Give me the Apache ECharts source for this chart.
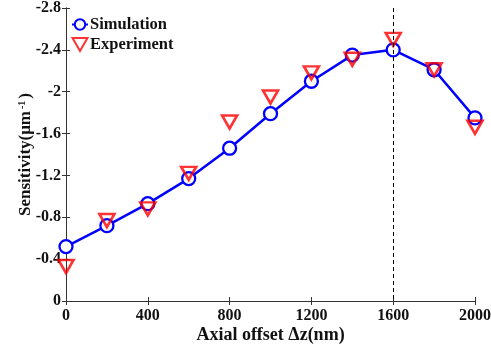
<!DOCTYPE html>
<html><head><meta charset="utf-8">
<script src="https://cdn.jsdelivr.net/npm/echarts@6/dist/echarts.min.js"></script>
<style>html,body{margin:0;padding:0;background:#fff}#c{width:491px;height:349px}</style>
</head><body><div id="c"></div>
<script>
const offsets = [0, 200, 400, 600, 800, 1000, 1200, 1400, 1600, 1800, 2000];
const simulation = [-0.52, -0.72, -0.93, -1.17, -1.46, -1.79, -2.10, -2.35, -2.40, -2.21, -1.75];
const experiment = [-0.33, -0.77, -0.88, -1.22, -1.71, -1.95, -2.18, -2.31, -2.50, -2.21, -1.66];
const markX = 1600;

const font = 'Liberation Serif';
const triDown = 'path://M0,0L10,0L5,8.7Z';
const chart = echarts.init(document.getElementById('c'));
const axisLine = {show: true, lineStyle: {color: '#333', width: 1}};
const tick = {show: true, inside: true, length: 4, lineStyle: {color: '#333'}};
chart.setOption({
  animation: false,
  grid: {left: 66, right: 16, top: 8, bottom: 48, containLabel: false, outerBoundsMode: 'none'},
  legend: {
    orient: 'vertical', left: 66, top: 11, itemGap: 3, itemWidth: 16, itemHeight: 13,
    textStyle: {fontFamily: font, fontWeight: 'bold', fontSize: 16.5, color: '#111', padding: [0, 0, 0, -3]},
    data: [{name: 'Simulation'}, {name: 'Experiment', icon: triDown}]
  },
  xAxis: [{
    type: 'value', min: 0, max: 2000, interval: 400,
    axisLine: axisLine, axisTick: tick, splitLine: {show: false},
    axisLabel: {fontFamily: font, fontWeight: 'bold', fontSize: 16, color: '#111', margin: 7,
      formatter: v => String(v)},
    name: 'Axial offset Δz(nm)', nameLocation: 'middle', nameGap: 25, nameMoveOverlap: false,
    nameTextStyle: {fontFamily: font, fontWeight: 'bold', fontSize: 18, color: '#111'}
  }, {
    type: 'value', position: 'top', min: 0, max: 2000, interval: 400,
    axisLine: axisLine, axisTick: tick, axisLabel: {show: false}, splitLine: {show: false}
  }],
  yAxis: [{
    type: 'value', min: -2.8, max: 0, interval: 0.4, inverse: true,
    axisLine: axisLine, axisTick: tick, splitLine: {show: false},
    axisLabel: {fontFamily: font, fontWeight: 'bold', fontSize: 16, color: '#111', margin: 5},
    name: '{a|Sensitivity(μm}{b|-1}{a|)}', nameLocation: 'middle', nameGap: 32, nameMoveOverlap: false,
    nameTextStyle: {
      rich: {
        a: {fontFamily: font, fontWeight: 'bold', fontSize: 17, color: '#111'},
        b: {fontFamily: font, fontWeight: 'bold', fontSize: 10, color: '#111', verticalAlign: 'top', padding: [0, 2, 7, 2]}
      }
    }
  }, {
    type: 'value', position: 'right', min: -2.8, max: 0, interval: 0.4, inverse: true,
    axisLine: axisLine, axisTick: tick, axisLabel: {show: false}, splitLine: {show: false}
  }],
  series: [{
    name: 'Simulation', type: 'line',
    data: offsets.map((x, i) => [x, simulation[i]]),
    symbol: 'circle', symbolSize: 13,
    lineStyle: {color: '#0000ff', width: 2.5},
    itemStyle: {color: '#fff', borderColor: '#0000ff', borderWidth: 2.3},
    markLine: {
      silent: true, symbol: 'none', label: {show: false},
      lineStyle: {color: '#000', type: [4, 3], width: 1},
      data: [{xAxis: markX}]
    },
    z: 2
  }, {
    name: 'Experiment', type: 'scatter',
    data: offsets.map((x, i) => [x, experiment[i]]),
    symbol: triDown, symbolSize: [15, 13],
    itemStyle: {color: 'rgba(255,255,255,0)', borderColor: '#ff0000', borderWidth: 2.6},
    z: 3
  }]
});
</script></body></html>
